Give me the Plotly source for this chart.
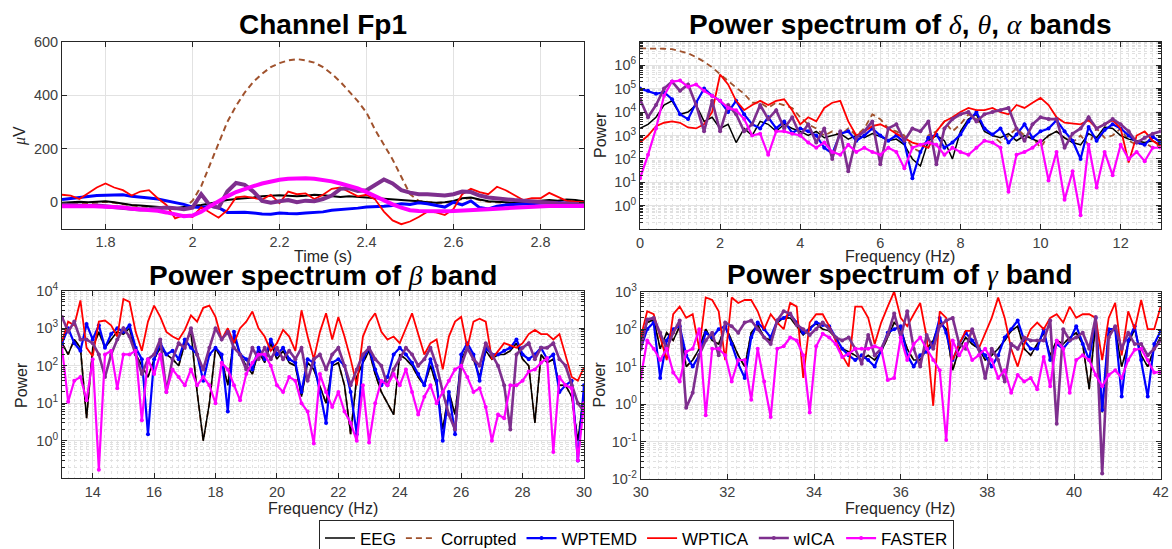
import plotly.graph_objects as go

W, H = 1172, 549
FONT = "Liberation Sans, Arial, Helvetica, sans-serif"
SERIF = "Liberation Serif, Times New Roman, serif"

# ---------------- sample positions ----------------
time_s = [round(1.70 + 0.02 * i, 2) for i in range(61)]
f_delta = [round(0.2 * i, 1) for i in range(66)]
f_beta = [round(13 + 0.2 * i, 1) for i in range(86)]
f_gamma = [round(30 + 0.15 * i, 2) for i in range(81)]

# ---------------- Channel Fp1 (uV) ----------------
fp1_eeg = [-2, 0, 2, 0, 3, 4, 0, -6, -10, -12,
           -15, -18, -20, -22, -18, -15, -10, -5, 2, 8,
           12, 14, 18, 22, 25, 26, 24, 22, 24, 28,
           26, 22, 20, 22, 20, 18, 15, 14, 12, 10,
           6, 4, 0, -2, 0, 5, 15, 18, 10, 4,
           2, 0, -2, 0, 2, 4, 8, 6, 10, 8, 4]
fp1_corrupted = [-5, -3, -2, -4, 0, 2, -2, -8, -12, -15,
                 -18, -20, -22, -24, -20, 5, 60, 140, 220, 300,
                 360, 410, 450, 480, 505, 520, 530, 535, 530, 522,
                 505, 480, 450, 415, 378, 335, 270, 215, 160, 95,
                 30, 5, 0, -3, -2, 3, 12, 16, 8, 2,
                 0, -2, -4, -2, 0, 2, 6, 4, 8, 6, 2]
fp1_wptemd = [10, 14, 18, 22, 25, 26, 28, 28, 22, 20,
              16, 12, 5, -2, -8, -18, -20, -15, -20, -38,
              -38, -37, -40, -44, -45, -40, -42, -43, -40, -38,
              -36, -30, -28, -26, -22, -18, -17, -15, -12, -6,
              -8, -2, -6, -12, -18, 0, -10, 5, -20, -25,
              -15, -10, -8, -6, -5, -3, -2, -2, -3, -2, -5]
fp1_wptica = [28, 25, 12, 35, 55, 70, 55, 45, 25, 40,
              45, 15, -10, -60, -48, -55, -18, -38, -58, -30,
              18, 22, 15, 10, 28, -3, 40, 30, 33, 12,
              28, 50, 55, 40, 22, 28, 10, -35, -68, -82,
              -72, -55, -35, -38, -48, -25, 30, 50, 38, 30,
              58, 45, 25, 8, 15, 15, 35, 20, 5, 2, 0]
fp1_wica = [-8, -10, -12, -14, -12, -15, -18, -22, -25, -27,
            -26, -24, -20, -22, -26, -20, 30, -12, -20, 40,
            72, 65, 40, 5, -2, 4, 8, 0, 6, 4,
            12, 25, 50, 52, 42, 45, 65, 85, 70, 45,
            36, 30, 30, 28, 25, 30, 40, 38, 25, 18,
            14, 10, 8, 6, 3, 0, -2, -4, -5, -6, -8]
fp1_faster = [-15, -16, -15, -14, -15, -17, -18, -20, -24, -27,
              -28, -32, -38, -44, -52, -50, -35, -15, 5, 22,
              38, 50, 60, 70, 78, 84, 88, 90, 90, 88,
              84, 78, 70, 62, 52, 38, 22, 8, -8, -20,
              -30, -33, -34, -34, -34, -33, -32, -30, -28, -26,
              -24, -22, -20, -18, -17, -16, -14, -14, -13, -12, -14]

# ---------------- delta/theta/alpha power ----------------
delta_eeg = [2e3, 3e3, 6e3, 2e4, 3e4, 8e3, 1e4, 2e4, 4e3, 6e3,
             2e3, 3e3, 5e2, 2e3, 1e3, 4e3, 3e3, 1.5e3, 3e3, 2e3,
             1.5e3, 1e3, 1.5e3, 8e2, 1e3, 1.2e3, 7e2, 1e3, 8e2, 1.2e3,
             9e2, 6e2, 7e2, 4e2, 1e2, 5e1, 6e2, 1e3, 6e2, 1e2,
             1.5e3, 5e3, 8e3, 1.5e3, 1e3, 8e2, 1.2e3, 6e2, 1e3, 7e2,
             5e2, 1e3, 1.5e3, 8e2, 5e2, 4e2, 1.2e3, 8e2, 2.3e3, 2e3,
             1e3, 7e2, 6e2, 5e2, 6e2, 4e2]
delta_corrupted = [5.2e6, 5.2e6, 5e6, 5e6, 4.8e6, 4e6, 3.2e6, 2.2e6, 1.4e6, 8e5,
                   4e5, 2e5, 1.1e5, 6e4, 2.5e4, 2.5e4, 1.5e4, 2.5e4, 2e4, 1.5e4,
                   6e3, 3e3, 2e3, 1e3, 1.5e3, 1e3, 2e3, 1e3, 2e3, 8e3,
                   5e3, 2e3, 1.5e3, 1e3, 3e2, 2e2, 1e3, 1.5e3, 4e3, 1.5e3,
                   3e3, 8e3, 5e3, 2e3, 1e3, 5e2, 1e3, 2e3, 1e3, 8e2,
                   3e2, 1e3, 1.5e3, 8e2, 5e2, 1e3, 4e2, 2e3, 8e2, 1e3,
                   2e3, 6e2, 4e2, 5e2, 3e2, 4e2]
delta_wptemd = [1e5, 8e4, 6e4, 7e4, 3.5e4, 8e3, 5e3, 2.5e4, 1e5, 5e4,
                3e4, 1e4, 3e4, 8e3, 3e3, 2e3, 6e3, 2e3, 4e3, 1.3e3,
                2e3, 1.5e3, 1e3, 3e2, 1.7e2, 1.2e3, 1.5e3, 6e2, 1e3, 2e3,
                1e3, 6e2, 1e3, 5e2, 1.5e1, 2e2, 8e2, 1.1e3, 3e2, 5e2,
                1.1e3, 4e3, 1e4, 2e3, 1.1e3, 2e3, 5e2, 1.1e3, 3e3, 8e2,
                1.5e3, 2e3, 4.5e3, 1.5e3, 6e2, 1e2, 2.3e3, 6e2, 1.7e3, 3e3,
                2e3, 1e3, 5e2, 4e2, 9e2, 5e2]
delta_wptica = [5e2, 1e3, 2.5e3, 3.5e3, 4e3, 3.5e3, 2.2e3, 2e3, 3e3, 1e4,
                4e5, 1.5e5, 3e4, 1.2e4, 2e4, 3e4, 2e4, 3e4, 3.5e4, 1.2e4,
                3e3, 6e3, 4e3, 1.5e4, 2.5e4, 3e4, 4e3, 1e3, 1.5e3, 2.5e3,
                3e3, 2e3, 1.2e3, 8e2, 5e2, 4e2, 3e2, 1.5e3, 4e3, 6e3,
                1e4, 1.5e4, 1.2e4, 1.2e4, 1.5e4, 1e4, 8e3, 2e4, 1.5e4, 2.5e4,
                4e4, 2e4, 6e3, 3.5e3, 3.3e3, 3e3, 4.5e3, 2e3, 3e3, 4.5e3,
                2e3, 7e1, 1e3, 1.5e3, 6e2, 3.5e2]
delta_wica = [3.5e4, 6e3, 2e4, 1e5, 2e5, 8e4, 1.5e5, 2e4, 1.5e3, 3e4,
              1.5e3, 2e4, 8e3, 1.5e3, 3e3, 2e4, 5e3, 1.2e4, 2e3, 6e3,
              1e3, 3e3, 5e2, 2e3, 1e2, 1.5e3, 3e1, 8e2, 1.5e3, 4e3,
              6e1, 2e3, 3e3, 6e2, 2e3, 1.5e3, 4e3, 6e1, 2e3, 5e3,
              8e3, 1e4, 4e3, 8e3, 1e4, 1.2e4, 1.5e4, 2e3, 6e2, 3e3,
              6e3, 5e3, 5e3, 3e2, 1.2e3, 2e3, 6e3, 2e3, 3e3, 5e3,
              3e3, 1.5e3, 5e2, 8e2, 1.2e3, 1.5e3]
delta_faster = [1.5e1, 1.5e2, 2e3, 5e4, 2e5, 2.2e5, 1.2e5, 1.5e5, 8e4, 5e4,
                3e4, 1.5e4, 1.2e4, 5e3, 1e3, 1.2e3, 1.5e2, 1.5e3, 1.5e3, 1.2e3,
                1e3, 5e2, 3e2, 5e2, 2e2, 1.5e2, 4e2, 2e2, 3e2, 2e2,
                1.5e2, 3e2, 2e2, 4e1, 3e2, 4e2, 5e2, 4e2, 1.5e2, 3e2,
                2e2, 1.5e2, 3e2, 6e2, 5e2, 3e2, 4, 1.5e2, 2e2, 3e2,
                6e2, 1.2e1, 2e2, 1.8, 3e1, 0.4, 4e2, 6, 2e2, 2e1,
                4e2, 1e2, 2e2, 8e1, 3e2, 3e2]

# ---------------- beta power ----------------
beta_eeg = [4e2, 2e2, 5e2, 3e2, 4, 3e2, 8e2, 3e2, 5e2, 8e2,
            7e2, 1e3, 2e2, 1e2, 5e1, 1.5e2, 3e2, 2e2, 1.5e2, 1e2,
            4e2, 8e2, 2e1, 1, 1e1, 3e2, 1.5e2, 3e1, 6e2, 2e2,
            1e2, 6e1, 2.5e2, 1.2e2, 4e2, 1.5e2, 2.5e2, 1.2e2, 1e2, 1.5e1,
            1.2e2, 8e1, 3e1, 1e1, 1e2, 1.2e2, 3e1, 1.5, 5e1, 1.2e2,
            2.5e2, 6e1, 2e1, 1e1, 5, 2e2, 1.5e2, 1e2, 5e1, 3e1,
            1e2, 3e1, 2, 2e1, 5, 1.5e2, 3e2, 1.5e2, 5e1, 2.5e2,
            1.5e2, 2e2, 2e2, 2.5e2, 4e2, 1.5e2, 1e2, 3, 2e2, 1.2e2,
            1.5e2, 3e1, 3e1, 1.5e1, 1, 2e1]
beta_corrupted = list(beta_eeg)
beta_wptemd = [4e2, 1e3, 4e2, 2.5e2, 1.3e3, 5e2, 1.2e3, 3e2, 7e2, 1e3,
               8e2, 1.2e3, 3e2, 1.5e2, 1.5, 1.5e2, 4e2, 2e2, 2.5e2, 1.5e2,
               5e2, 3e2, 2e2, 4e1, 2e2, 3e2, 2e2, 6, 8e2, 2e2,
               1.5e2, 8e1, 3e2, 1.5e2, 5e2, 2e2, 3e2, 1.5e2, 1.2e2, 2e1,
               1.5e2, 1.2e2, 2e1, 3, 1.2e2, 1.5e2, 1e2, 2e1, 1.5, 1.5e2,
               3e2, 8e1, 3e1, 5e1, 2e2, 3e2, 2e2, 1.2e2, 6e1, 3e1,
               1.5e2, 4e1, 1, 2e1, 1.5, 2e2, 4e2, 2e2, 4e1, 3e2,
               2e2, 2e2, 2.5e2, 3e2, 5e2, 2e2, 1.5e2, 2e2, 3e2, 1.5e2,
               2e2, 2e1, 3e1, 4e1, 0.3, 3e1]
beta_wptica = [4.4e2, 1.5e3, 1.2e3, 5.5e3, 3e2, 1.8e2, 1.5e3, 1.6e3, 1.2e3, 6e2,
               6e3, 5e3, 8e2, 2.5e2, 1.5e3, 4e3, 2e3, 8e2, 6e2, 5e2,
               9e2, 2.2e3, 1.5e3, 3.5e3, 4e3, 2e3, 5e2, 1e3, 4e2, 1e3,
               1.5e3, 2.8e3, 1e3, 6e2, 2.5e2, 4e2, 9e2, 6e2, 2.5e2, 3e3,
               6e2, 1.5e2, 8e2, 2.5e3, 5e2, 2e3, 6e2, 1.5e2, 3e1, 6e2,
               1.5e3, 2.5e3, 8e2, 5e2, 6e2, 4e2, 1e3, 2.5e3, 7e2, 2e2,
               4e2, 5e2, 8e1, 6e2, 1.5e3, 2e3, 3e2, 1.5e3, 1.8e3, 1.5e3,
               1.5e2, 2.5e2, 4e2, 3.5e2, 3e2, 4e2, 7e2, 9e2, 7e2, 7e2,
               5e2, 7e2, 2e2, 5e1, 4e1, 9e1]
beta_wica = [2e3, 8e2, 1.5e3, 5e2, 5e2, 4e2, 2e2, 5e1, 2e2, 5e2,
             1e3, 6e2, 2e2, 6e1, 1.5e2, 2e2, 5e2, 2e1, 1.5e2, 4e2,
             3e2, 1e3, 2e2, 8e1, 3e2, 1e3, 5e2, 8e2, 3e2, 2e2,
             8e1, 3e2, 1.5e2, 3e2, 1.5e2, 3e2, 1.5e2, 2.5e2, 1.5e2, 3e2,
             4e1, 1.5e2, 2e2, 8e1, 2e2, 3e2, 1e2, 3e1, 8e1, 2e2,
             3e2, 1.5e2, 1e2, 3e1, 8e1, 1.5e2, 3e2, 2e2, 1e2, 1.5e2,
             3e2, 1e2, 2e1, 5, 2, 1e2, 3e2, 1.5e2, 1e2, 4e2,
             2e2, 1e2, 3e1, 2, 2e2, 3e2, 4e2, 1.5e2, 3e2, 3e2,
             4e2, 1.5e2, 1e2, 3e1, 1e1, 6]
beta_faster = [3e2, 1.1e1, 4e1, 5e1, 1.2e1, 1.5e2, 0.17, 2e2, 2.5e2, 2.5e1,
               2e2, 2e2, 2.5e2, 3.5, 1.5e2, 6e1, 2e2, 2e1, 8e1, 5e1,
               3e1, 8e1, 3e1, 5e1, 3e1, 1e1, 1.2e2, 8e1, 3e1, 1.2e1,
               6e1, 1.2e2, 2e2, 2e2, 1e2, 3e1, 2e1, 5e1, 4e1, 1e1,
               6, 0.85, 6e1, 2e1, 8, 2e1, 6, 3, 1, 3e1,
               0.9, 1e1, 4e1, 3e1, 6e1, 3e1, 8e1, 2e1, 5, 1.5e1,
               3e1, 1e1, 2e1, 4e1, 8e1, 1e2, 5e1, 2e1, 2.5e1, 8,
               1, 5, 4, 3e1, 3e1, 4e1, 7e1, 8e1, 1.2e2, 1.6e2,
               0.5, 5e1, 3e1, 2.5e1, 0.3, 1e1]

# ---------------- gamma power ----------------
gamma_eeg = [5e1, 1.5e2, 1.8e2, 3e1, 8e1, 5e1, 1.2e2, 1e1, 1.5e1, 3e1,
             1e2, 5e1, 4e1, 1.2e2, 5e1, 2e1, 1e1, 8e1, 1.3e2, 6e1,
             5e1, 1.5e2, 2e2, 2e2, 1.2e2, 7e1, 1.1e2, 1.4e2, 1e2, 9e1,
             6e1, 3e1, 2.5e1, 2e1, 1.5e1, 2e1, 1.5e1, 2.5e1, 6e1, 1.5e2,
             1e2, 3e1, 1.5e1, 1.5e1, 3e1, 5e1, 1.5e2, 1e2, 8, 3e1,
             6e1, 4e1, 3e1, 1.5e1, 2e1, 3e1, 5e1, 9e1, 1.2e2, 3e1,
             2e1, 4e1, 8e1, 2e1, 5e1, 4e1, 6e1, 8e1, 4e1, 2.5,
             1.5e2, 0.6, 8e1, 1e2, 1e1, 4e1, 1e2, 2e1, 1e1, 3e1,
             6e1]
gamma_corrupted = list(gamma_eeg)
gamma_wptemd = [3e1, 1e2, 1.5e2, 5, 5e1, 1e2, 1.2e2, 2e1, 1e1, 2e1,
                8e1, 6e1, 1e2, 1.2e2, 4e1, 1.2e1, 5, 6e1, 1.5e2, 1e2,
                6e1, 1.7e2, 2e2, 2.5e2, 1.5e2, 8e1, 1e2, 1.5e2, 1.3e2, 1.2e2,
                6e1, 3e1, 2e1, 1.5e1, 2e1, 1.5e1, 1e1, 3e1, 8e1, 1e2,
                1.2e2, 2e1, 1e1, 2e1, 2.5e1, 4e1, 2e2, 8e1, 1.5e1, 4e1,
                8e1, 5e1, 3e1, 2e1, 1e1, 2e1, 6e1, 1e2, 1.7e2, 5e1,
                3e1, 3e1, 1e2, 1.5e1, 4e1, 3e1, 5e1, 1.2e2, 4e1, 1.5e1,
                2e2, 0.7, 1e2, 1e2, 1.6, 5e1, 1.2e2, 1.5e1, 1.6, 4e1,
                9e1]
gamma_wptica = [6e1, 3e2, 2.5e2, 6e1, 1.5e1, 2.5e2, 4e2, 2e2, 2.5e2, 3e1,
                7e2, 6e2, 3e2, 1.5e1, 7e2, 5e2, 6e2, 6e2, 3e2, 1e2,
                2.5e2, 1.5e2, 1e2, 5e2, 4e2, 5, 1.5e2, 2.5e2, 2.5e2, 1.2e2,
                5e1, 2e1, 1e1, 4e2, 4e2, 2e2, 4e1, 1.5e2, 4e2, 1e3,
                2e2, 1.2e2, 2.5e2, 5e2, 6e1, 0.9, 3e2, 2e2, 1.5e1, 4e1,
                9e1, 9e1, 3e1, 8e1, 2e2, 7e2, 2e2, 3e1, 1e1, 4e1,
                1e2, 1.5e2, 1e2, 2e2, 2.5e2, 1.5e2, 4e2, 2e2, 2.5e2, 2.5e2,
                2e2, 1.5e1, 2e2, 5e2, 2e1, 3e2, 1e2, 6e2, 1e2, 1e2,
                4e2]
gamma_wica = [3e1, 1.8e2, 2e2, 8e1, 3e1, 8e1, 1.7e2, 0.8, 2, 2e1,
              5e1, 8e1, 2e1, 1.5e2, 1.2e2, 8e1, 1.5e2, 1.7e2, 1e2, 6e1,
              4e1, 1.7e2, 3e2, 2.6e2, 1.3e2, 1e2, 7e1, 1e2, 1.5e2, 1e2,
              6e1, 5e1, 6e1, 3e1, 1.2e1, 7e1, 2e1, 3e1, 7e1, 2.6e2,
              6e1, 3e2, 3e1, 1e1, 7e1, 3e1, 1.2e2, 1.7e2, 2e2, 4e1,
              3e1, 1e2, 3e1, 5, 3e1, 1.5e1, 4, 4e1, 3e1, 6e1,
              5e1, 5e1, 5e1, 1.7e2, 0.3, 1e2, 5e1, 6e1, 8e1, 3e1,
              2.1e2, 0.014, 6e1, 1.2e2, 3e1, 8e1, 4e1, 4e1, 2e1, 3e1,
              5e1]
gamma_faster = [5, 5e1, 3e1, 1.5e1, 3e1, 7, 4, 2.5e1, 3e1, 1e2,
                0.5, 3e1, 3e1, 2e1, 4, 1.5e1, 1.5e1, 1.3, 3e1, 4,
                0.45, 3e1, 3.5e1, 6e1, 5e1, 2e1, 0.6, 3.5e1, 7.5e1, 6e1,
                4e1, 1.8e1, 2.2e1, 3e1, 3e1, 3e1, 3.5e1, 3e1, 4.4, 5,
                6e1, 1.5e1, 4e1, 6e1, 3e1, 1.5e1, 8, 0.11, 5e1, 2e1,
                4e1, 1.5e1, 2e1, 3e1, 1.5e1, 5, 8, 2, 6, 4,
                5, 2.5, 1.8e1, 3, 5e1, 3e1, 2, 1.5e1, 2e1, 1.5e1,
                6, 3, 6, 8, 5, 1.5e1, 2.8e1, 3e1, 1.5e1, 7,
                7]

methods = ["EEG", "Corrupted", "WPTEMD", "WPTICA", "wICA", "FASTER"]
colors = {"EEG": "#000000", "Corrupted": "#A0522D", "WPTEMD": "#0000FF",
          "WPTICA": "#FF0000", "wICA": "#7E2F8E", "FASTER": "#FF00FF"}
time_width = {"EEG": 2, "Corrupted": 2, "WPTEMD": 3, "WPTICA": 1.8, "wICA": 4, "FASTER": 4}
spec_width = {"EEG": 1.5, "Corrupted": 1.8, "WPTEMD": 2.2, "WPTICA": 1.8, "wICA": 2.6, "FASTER": 2.2}
with_markers = {"WPTEMD", "wICA", "FASTER"}
draw_order = ["Corrupted", "EEG", "WPTEMD", "WPTICA", "wICA", "FASTER"]

panels = [
    ("x", "y", time_s, {"EEG": fp1_eeg, "Corrupted": fp1_corrupted, "WPTEMD": fp1_wptemd,
                        "WPTICA": fp1_wptica, "wICA": fp1_wica, "FASTER": fp1_faster}, False),
    ("x2", "y2", f_delta, {"EEG": delta_eeg, "Corrupted": delta_corrupted, "WPTEMD": delta_wptemd,
                           "WPTICA": delta_wptica, "wICA": delta_wica, "FASTER": delta_faster}, True),
    ("x3", "y3", f_beta, {"EEG": beta_eeg, "Corrupted": beta_corrupted, "WPTEMD": beta_wptemd,
                          "WPTICA": beta_wptica, "wICA": beta_wica, "FASTER": beta_faster}, True),
    ("x4", "y4", f_gamma, {"EEG": gamma_eeg, "Corrupted": gamma_corrupted, "WPTEMD": gamma_wptemd,
                           "WPTICA": gamma_wptica, "wICA": gamma_wica, "FASTER": gamma_faster}, True),
]

fig = go.Figure()
for pi, (xa, ya, xs, series, spectral) in enumerate(panels):
    for name in draw_order:
        widths = spec_width if spectral else time_width
        mode = "lines+markers" if (spectral and name in with_markers) else "lines"
        fig.add_trace(go.Scatter(
            x=xs, y=series[name], xaxis=xa, yaxis=ya, name=name, mode=mode,
            line=dict(color=colors[name], width=widths[name],
                      dash="6px,4px" if name == "Corrupted" else "solid"),
            marker=dict(size=4, color=colors[name]),
            showlegend=(pi == 1), legendrank=methods.index(name) + 1,
            hoverinfo="skip"))


def px_x(p):
    return p / W


def px_y(p):
    return 1 - p / H


axis_common = dict(showline=True, linecolor="#262626", linewidth=1, mirror="ticks",
                   ticks="inside", ticklen=5, tickcolor="#262626",
                   showgrid=True, gridcolor="#e2e2e2", gridwidth=1, zeroline=False,
                   tickfont=dict(family=FONT, size=14.5, color="#404040"))
xminor = dict(dtick=0.2, tick0=0, showgrid=True, gridcolor="#e4e4e4", griddash="dot", ticks="")
yminor = dict(dtick="D1", showgrid=True, gridcolor="#e0e0e0", griddash="dot",
              ticks="inside", ticklen=3, tickcolor="#262626")


def pow_labels(lo, hi):
    vals = [10.0 ** k for k in range(lo, hi + 1)]
    txt = ["10<sup>%d</sup>" % k for k in range(lo, hi + 1)]
    return vals, txt


v2, t2 = pow_labels(0, 6)
v3, t3 = pow_labels(0, 4)
v4, t4 = pow_labels(-2, 3)

fig.update_layout(
    width=W, height=H, margin=dict(l=0, r=0, t=0, b=0, autoexpand=False),
    paper_bgcolor="white", plot_bgcolor="white",
    font=dict(family=FONT, color="#262626"),
    xaxis=dict(domain=[px_x(62), px_x(584)], anchor="y", range=[1.7, 2.9],
               tickvals=[1.8, 2.0, 2.2, 2.4, 2.6, 2.8],
               ticktext=["1.8", "2", "2.2", "2.4", "2.6", "2.8"], **axis_common),
    yaxis=dict(domain=[px_y(229), px_y(41.7)], anchor="x", range=[-100, 600],
               tickvals=[0, 200, 400, 600], **axis_common),
    xaxis2=dict(domain=[px_x(640), px_x(1160.7)], anchor="y2", range=[0, 13],
                tickvals=[0, 2, 4, 6, 8, 10, 12], minor=xminor, **axis_common),
    yaxis2=dict(domain=[px_y(229.3), px_y(41.7)], anchor="x2", type="log", range=[-1, 7],
                tickvals=v2, ticktext=t2, minor=yminor, **axis_common),
    xaxis3=dict(domain=[px_x(62), px_x(584)], anchor="y3", range=[13, 30],
                tickvals=list(range(14, 31, 2)), minor=xminor, **axis_common),
    yaxis3=dict(domain=[px_y(478.3), px_y(290.7)], anchor="x3", type="log", range=[-1, 4],
                tickvals=v3, ticktext=t3, minor=yminor, **axis_common),
    xaxis4=dict(domain=[px_x(640.7), px_x(1160.7)], anchor="y4", range=[30, 42],
                tickvals=list(range(30, 43, 2)), minor=xminor, **axis_common),
    yaxis4=dict(domain=[px_y(479), px_y(291.7)], anchor="x4", type="log", range=[-2, 3],
                tickvals=v4, ticktext=t4, minor=yminor, **axis_common),
    legend=dict(orientation="h", x=px_x(319), y=px_y(519.5), xanchor="left", yanchor="top",
                bordercolor="#262626", borderwidth=1, bgcolor="white",
                font=dict(family=FONT, size=17, color="#000000"),
                tracegroupgap=0, itemwidth=30),
    showlegend=True,
)


def g(s):
    return "<span style=\"font-family:%s\"><i>%s</i></span>" % (SERIF.split(",")[0], s)


titles = [
    ("<b>Channel Fp1</b>", 323, 25),
    ("<b>Power spectrum of </b>" + g("δ") + "<b>, </b>" + g("θ") + "<b>, </b>" + g("α") + "<b> bands</b>", 900, 25),
    ("<b>Power spectrum of </b>" + g("β") + "<b> band</b>", 323, 275),
    ("<b>Power spectrum of </b>" + g("γ") + "<b> band</b>", 900, 274),
]
ann = []
for txt, x, y in titles:
    ann.append(dict(text=txt, x=px_x(x), y=px_y(y), xref="paper", yref="paper",
                    xanchor="center", yanchor="middle", showarrow=False,
                    font=dict(family=FONT, size=28, color="#000000")))

labels = [
    (g("μ") + "V", 20, 136, -90),
    ("Time (s)", 323, 256, 0),
    ("Power", 600, 135, -90),
    ("Frequency (Hz)", 900, 256, 0),
    ("Power", 21, 385, -90),
    ("Frequency (Hz)", 323, 508, 0),
    ("Power", 598.5, 385, -90),
    ("Frequency (Hz)", 900, 508, 0),
]
for txt, x, y, ang in labels:
    ann.append(dict(text=txt, x=px_x(x), y=px_y(y), xref="paper", yref="paper",
                    xanchor="center", yanchor="middle", showarrow=False, textangle=ang,
                    font=dict(family=FONT, size=16, color="#262626")))
fig.update_layout(annotations=ann)

fig.write_html("out.html")
